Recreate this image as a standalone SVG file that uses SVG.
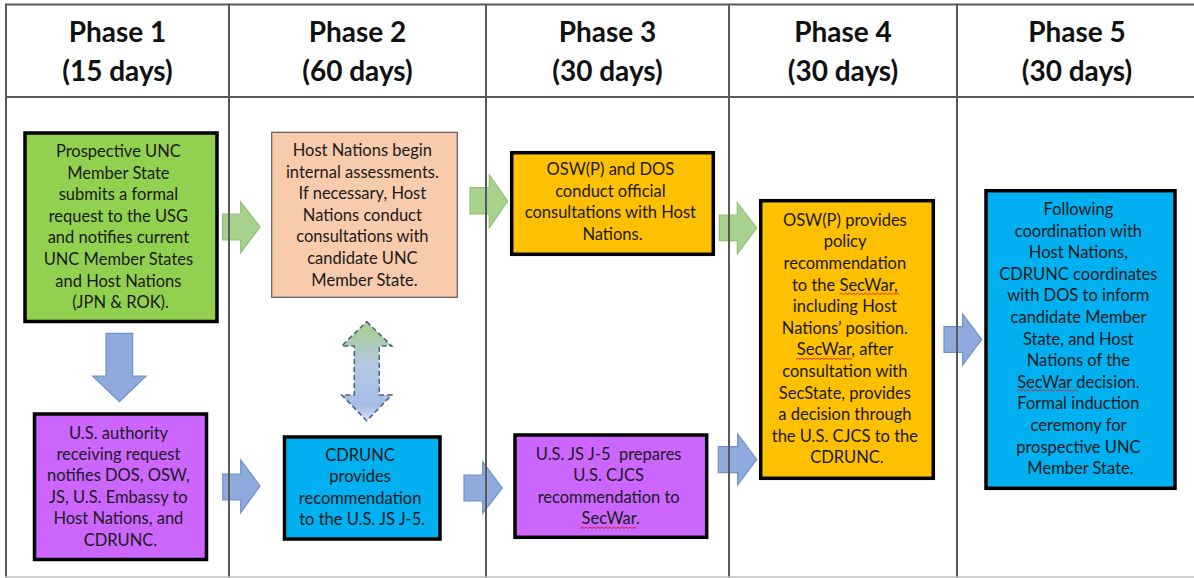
<svg xmlns="http://www.w3.org/2000/svg" width="1194" height="578" viewBox="0 0 1194 578">
  <style>
    .hdr { font-family: Lato, "Open Sans", "Liberation Sans", sans-serif; font-weight: bold; font-size: 28px; fill: #111; text-anchor: middle; }
    .txt { font-family: Lato, "Open Sans", "Liberation Sans", sans-serif; font-size: 16.5px; fill: #1a1a1a; text-anchor: middle; }
    .bk { stroke: #000; stroke-width: 3.5; }
    .grn { fill: #A9D18E; stroke: #90C174; stroke-width: 1.2; }
    .blu { fill: #8FAADC; stroke: #7090CA; stroke-width: 1.2; }
    .grid { stroke: #595959; stroke-width: 2; fill: none; }
    .sq { fill: none; stroke: #E02020; stroke-width: 0.9; }
  </style>
  <defs>
    <linearGradient id="dblg" x1="0" y1="0" x2="0" y2="1">
      <stop offset="0" stop-color="#A6CF8C"/>
      <stop offset="0.45" stop-color="#B4C7E4"/>
      <stop offset="0.85" stop-color="#A4BCE6"/>
      <stop offset="1" stop-color="#DCE5F5"/>
    </linearGradient>
  </defs>
  <rect x="0" y="0" width="1194" height="578" fill="#fff"/>

  <g id="headers">
    <text class="hdr" x="117.5" y="42">Phase 1</text>
    <text class="hdr" x="117.5" y="81">(15 days)</text>
    <text class="hdr" x="357.5" y="42">Phase 2</text>
    <text class="hdr" x="357.5" y="81">(60 days)</text>
    <text class="hdr" x="607.5" y="42">Phase 3</text>
    <text class="hdr" x="607.5" y="81">(30 days)</text>
    <text class="hdr" x="843" y="42">Phase 4</text>
    <text class="hdr" x="843" y="81">(30 days)</text>
    <text class="hdr" x="1077" y="42">Phase 5</text>
    <text class="hdr" x="1077" y="81">(30 days)</text>
  </g>

  <g id="p1-request">
    <rect x="25" y="133" width="192" height="188.5" fill="#92D050" class="bk"/>
    <text class="txt" x="120.5" y="157">
      <tspan x="120.5">Prospective UNC</tspan>
      <tspan x="120.5" dy="21.6">Member State</tspan>
      <tspan x="120.5" dy="21.6">submits a formal</tspan>
      <tspan x="120.5" dy="21.6">request to the USG</tspan>
      <tspan x="120.5" dy="21.6">and notifies current</tspan>
      <tspan x="120.5" dy="21.6">UNC Member States</tspan>
      <tspan x="120.5" dy="21.6">and Host Nations</tspan>
      <tspan x="120.5" dy="21.6">(JPN &amp; ROK).</tspan>
    </text>
  </g>

  <g id="p1-notify">
    <rect x="34.5" y="414" width="172" height="145.5" fill="#CC66FF" class="bk"/>
    <text class="txt" x="120.5" y="438.5">
      <tspan x="120.5">U.S. authority</tspan>
      <tspan x="120.5" dy="21.4">receiving request</tspan>
      <tspan x="120.5" dy="21.4">notifies DOS, OSW,</tspan>
      <tspan x="120.5" dy="21.4">JS, U.S. Embassy to</tspan>
      <tspan x="120.5" dy="21.4">Host Nations, and</tspan>
      <tspan x="120.5" dy="21.4">CDRUNC.</tspan>
    </text>
  </g>

  <g id="p2-assess">
    <rect x="271.7" y="132.3" width="185.6" height="165" fill="#F8CBAD" stroke="#595959" stroke-width="1.2"/>
    <text class="txt" x="364.5" y="156">
      <tspan x="364.5">Host Nations begin</tspan>
      <tspan x="364.5" dy="21.6">internal assessments.</tspan>
      <tspan x="364.5" dy="21.6">If necessary, Host</tspan>
      <tspan x="364.5" dy="21.6">Nations conduct</tspan>
      <tspan x="364.5" dy="21.6">consultations with</tspan>
      <tspan x="364.5" dy="21.6">candidate UNC</tspan>
      <tspan x="364.5" dy="21.6">Member State.</tspan>
    </text>
  </g>

  <g id="p2-cdrunc">
    <rect x="284.5" y="437" width="155.5" height="102" fill="#00B0F0" class="bk"/>
    <text class="txt" x="362.2" y="461">
      <tspan x="362.2">CDRUNC</tspan>
      <tspan x="362.2" dy="21.3">provides</tspan>
      <tspan x="362.2" dy="21.3">recommendation</tspan>
      <tspan x="362.2" dy="21.3">to the U.S. JS J-5.</tspan>
    </text>
  </g>

  <g id="p3-consult">
    <rect x="511.7" y="152.7" width="201.6" height="101.6" fill="#FFC000" class="bk"/>
    <text class="txt" x="612.5" y="175">
      <tspan x="612.5">OSW(P) and DOS</tspan>
      <tspan x="612.5" dy="21.7">conduct official</tspan>
      <tspan x="612.5" dy="21.7">consultations with Host</tspan>
      <tspan x="612.5" dy="21.7">Nations.</tspan>
    </text>
  </g>

  <g id="p3-j5">
    <rect x="515" y="435" width="191.7" height="102.3" fill="#CC66FF" class="bk"/>
    <text class="txt" x="610.8" y="460">
      <tspan x="610.8">U.S. JS J-5&#160; prepares</tspan>
      <tspan x="610.8" dy="21.4">U.S. CJCS</tspan>
      <tspan x="610.8" dy="21.4">recommendation to</tspan>
      <tspan x="610.8" dy="21.4">SecWar.</tspan>
    </text>
    <path class="sq" d="M580 528.5 l2 -1.4 l2 1.4 l2 -1.4 l2 1.4 l2 -1.4 l2 1.4 l2 -1.4 l2 1.4 l2 -1.4 l2 1.4 l2 -1.4 l2 1.4 l2 -1.4 l2 1.4 l2 -1.4 l2 1.4 l2 -1.4 l2 1.4 l2 -1.4 l2 1.4 l2 -1.4 l2 1.4 l2 -1.4 l2 1.4 l2 -1.4 l2 1.4 l2 -1.4 l2 1.4"/>
  </g>

  <g id="p4-decision">
    <rect x="760.7" y="200.7" width="172.6" height="277.6" fill="#FFC000" class="bk"/>
    <text class="txt" x="847" y="225.7">
      <tspan x="847">OSW(P) provides</tspan>
      <tspan x="847" dy="21.6">policy</tspan>
      <tspan x="847" dy="21.6">recommendation</tspan>
      <tspan x="847" dy="21.6">to the SecWar,</tspan>
      <tspan x="847" dy="21.6">including Host</tspan>
      <tspan x="847" dy="21.6">Nations’ position.</tspan>
      <tspan x="847" dy="21.6">SecWar, after</tspan>
      <tspan x="847" dy="21.6">consultation with</tspan>
      <tspan x="847" dy="21.6">SecState, provides</tspan>
      <tspan x="847" dy="21.6">a decision through</tspan>
      <tspan x="847" dy="21.6">the U.S. CJCS to the</tspan>
      <tspan x="847" dy="21.6">CDRUNC.</tspan>
    </text>
    <path class="sq" d="M839.5 294.5 l2 -1.4 l2 1.4 l2 -1.4 l2 1.4 l2 -1.4 l2 1.4 l2 -1.4 l2 1.4 l2 -1.4 l2 1.4 l2 -1.4 l2 1.4 l2 -1.4 l2 1.4 l2 -1.4 l2 1.4 l2 -1.4 l2 1.4 l2 -1.4 l2 1.4 l2 -1.4 l2 1.4 l2 -1.4 l2 1.4 l2 -1.4 l2 1.4 l2 -1.4 l2 1.4 l2 -1.4 l2 1.4"/>
    <path class="sq" d="M796 359.5 l2 -1.4 l2 1.4 l2 -1.4 l2 1.4 l2 -1.4 l2 1.4 l2 -1.4 l2 1.4 l2 -1.4 l2 1.4 l2 -1.4 l2 1.4 l2 -1.4 l2 1.4 l2 -1.4 l2 1.4 l2 -1.4 l2 1.4 l2 -1.4 l2 1.4 l2 -1.4 l2 1.4 l2 -1.4 l2 1.4 l2 -1.4 l2 1.4 l2 -1.4 l2 1.4"/>
  </g>

  <g id="p5-induction">
    <rect x="986" y="190.7" width="189" height="297.6" fill="#00B0F0" class="bk"/>
    <text class="txt" x="1080.5" y="215">
      <tspan x="1080.5">Following</tspan>
      <tspan x="1080.5" dy="21.6">coordination with</tspan>
      <tspan x="1080.5" dy="21.6">Host Nations,</tspan>
      <tspan x="1080.5" dy="21.6">CDRUNC coordinates</tspan>
      <tspan x="1080.5" dy="21.6">with DOS to inform</tspan>
      <tspan x="1080.5" dy="21.6">candidate Member</tspan>
      <tspan x="1080.5" dy="21.6">State, and Host</tspan>
      <tspan x="1080.5" dy="21.6">Nations of the</tspan>
      <tspan x="1080.5" dy="21.6">SecWar decision.</tspan>
      <tspan x="1080.5" dy="21.6">Formal induction</tspan>
      <tspan x="1080.5" dy="21.6">ceremony for</tspan>
      <tspan x="1080.5" dy="21.6">prospective UNC</tspan>
      <tspan x="1080.5" dy="21.6">Member State.</tspan>
    </text>
    <path class="sq" d="M1017.5 391 l2 -1.4 l2 1.4 l2 -1.4 l2 1.4 l2 -1.4 l2 1.4 l2 -1.4 l2 1.4 l2 -1.4 l2 1.4 l2 -1.4 l2 1.4 l2 -1.4 l2 1.4 l2 -1.4 l2 1.4 l2 -1.4 l2 1.4 l2 -1.4 l2 1.4 l2 -1.4 l2 1.4 l2 -1.4 l2 1.4 l2 -1.4 l2 1.4 l2 -1.4 l2 1.4 l2 -1.4 l2 1.4"/>
  </g>

  <g id="connectors">
    <path class="grn" d="M222.7 214 L240.7 214 L240.7 201.7 L260 226.9 L240.7 252.7 L240.7 240 L222.7 240 Z"/>
    <path class="blu" d="M222.7 474 L240.7 474 L240.7 460 L260 486 L240.7 512.7 L240.7 500 L222.7 500 Z"/>
    <path class="grn" d="M470 187.5 L489.3 187.5 L489.3 175 L507.7 201 L489.3 227.7 L489.3 214 L470 214 Z"/>
    <path class="blu" d="M464 475 L482.7 475 L482.7 461.7 L502.3 488 L482.7 513.3 L482.7 501 L464 501 Z"/>
    <path class="grn" d="M719.3 215 L737.3 215 L737.3 202.7 L756.7 228 L737.3 254 L737.3 240.7 L719.3 240.7 Z"/>
    <path class="blu" d="M718.3 446.7 L737.7 446.7 L737.7 434 L756.7 459.5 L737.7 485 L737.7 472.7 L718.3 472.7 Z"/>
    <path class="blu" d="M944 326.7 L962.7 326.7 L962.7 314 L981.7 339.5 L962.7 365 L962.7 352.3 L944 352.3 Z"/>
    <path class="blu" d="M106 333.3 L132.7 333.3 L132.7 376 L146 376 L119.4 401.7 L92.7 376 L106 376 Z"/>
    <path d="M366.7 321.7 L391.7 346 L379.3 346 L379.3 395 L391.7 395 L366.7 420.7 L341.7 395 L354.3 395 L354.3 346 L341.7 346 Z" fill="url(#dblg)" stroke="#4E6386" stroke-width="1.6" stroke-dasharray="5 3"/>
  </g>

  <g id="grid">
    <line class="grid" x1="5" y1="4.5" x2="1194" y2="4.5" stroke="#6b6b6b" stroke-width="2.5"/>
    <line class="grid" x1="5" y1="97" x2="1194" y2="97" stroke="#404040"/>
    <line class="grid" x1="6" y1="4" x2="6" y2="578"/>
    <line class="grid" x1="229" y1="4" x2="229" y2="578"/>
    <line class="grid" x1="486" y1="4" x2="486" y2="578"/>
    <line class="grid" x1="729" y1="4" x2="729" y2="578"/>
    <line class="grid" x1="957" y1="4" x2="957" y2="578"/>
    <line x1="5" y1="577" x2="1194" y2="577" stroke="#C0C0C0" stroke-width="1.5"/>
  </g>
</svg>
